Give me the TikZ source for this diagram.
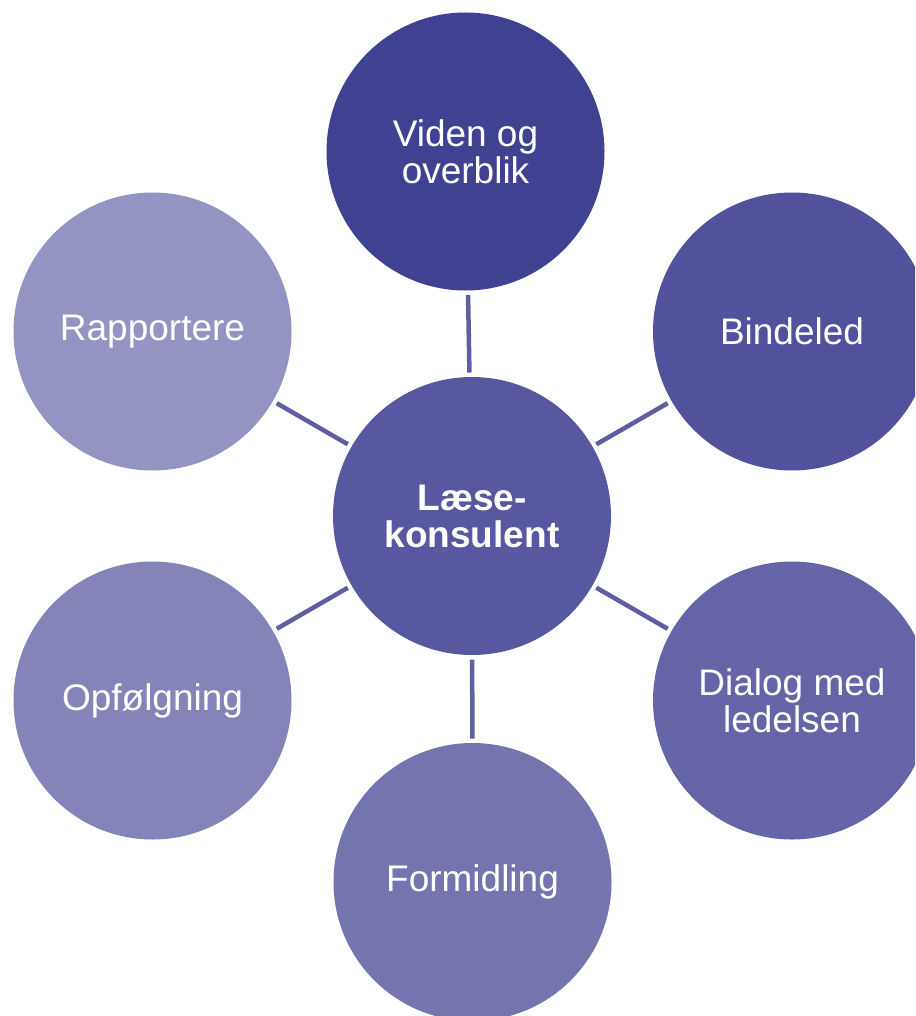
\documentclass[tikz,border=0pt]{standalone}
\usepackage{fontspec}
\setmainfont{Liberation Sans}
\definecolor{cTop}{HTML}{414192}
\definecolor{cBind}{HTML}{52529C}
\definecolor{cCen}{HTML}{5858A0}
\definecolor{cDia}{HTML}{6464A6}
\definecolor{cForm}{HTML}{7474AE}
\definecolor{cOpf}{HTML}{8484B8}
\definecolor{cRap}{HTML}{9494C2}
\definecolor{cLine}{HTML}{5E5EA0}
\begin{document}
\begin{tikzpicture}[x=1pt,y=-1pt,
  bubble/.style={circle,minimum size=278pt,inner sep=0pt,outer sep=0pt,
    text=white,align=center,font=\fontsize{37}{39}\selectfont},
  conn/.style={draw=cLine,line width=4.5pt,shorten >=4.5pt,shorten <=4.5pt}]
\clip (0,0) rectangle (915,1016);
\fill[white] (0,0) rectangle (915,1016);
\node[bubble,fill=cCen,font=\fontsize{37}{39}\selectfont\bfseries] (c) at (472,516) {\raisebox{-2pt}{Læse-}\\konsulent};
\node[bubble,fill=cTop] (v) at (465.5,151.5) {\raisebox{-2pt}{Viden og}\\overblik};
\node[bubble,fill=cBind] (b) at (792,331.5) {\raisebox{-2pt}{Bindeled}};
\node[bubble,fill=cDia] (d) at (792,700.5) {\raisebox{-2pt}{Dialog med}\\ledelsen};
\node[bubble,fill=cForm] (f) at (472.5,882) {\raisebox{-2pt}{Formidling}};
\node[bubble,fill=cOpf] (o) at (152.5,700.5) {\raisebox{-2pt}{Opfølgning}};
\node[bubble,fill=cRap] (r) at (152.5,331.5) {\raisebox{-2pt}{Rapportere}};
\foreach \n in {v,b,d,f,o,r} \draw[conn] (c) -- (\n);
\end{tikzpicture}
\end{document}
